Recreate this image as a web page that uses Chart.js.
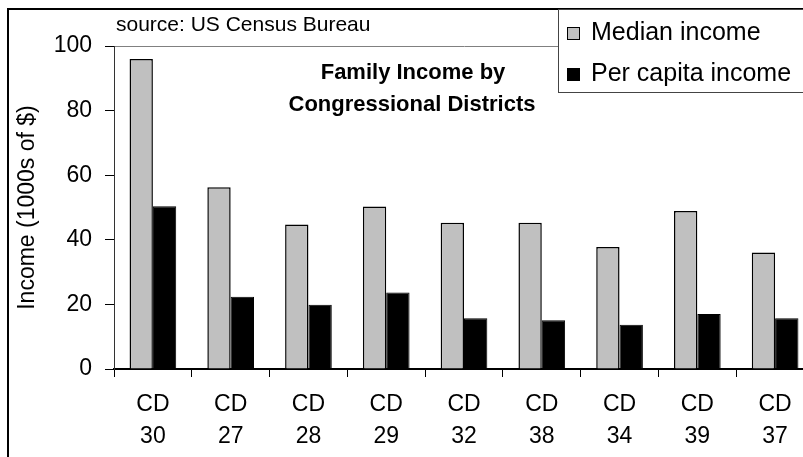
<!DOCTYPE html>
<html>
<head>
<meta charset="utf-8">
<script src="https://cdn.jsdelivr.net/npm/chart.js@4"></script>
<style>
  html, body { margin: 0; padding: 0; background: #fff; overflow: hidden; }
  #wrap { position: absolute; left: 0; top: 0; width: 830px; height: 480px; }
</style>
</head>
<body>
<div id="wrap"><canvas id="chart1"></canvas></div>
<script>
// data
var districts = [['CD', '30'], ['CD', '27'], ['CD', '28'], ['CD', '29'], ['CD', '32'],
                 ['CD', '38'], ['CD', '34'], ['CD', '39'], ['CD', '37']];
var medianIncome = [96.0, 56.3, 44.7, 50.3, 45.3, 45.3, 37.8, 48.9, 36.1];
var perCapitaIncome = [50.4, 22.4, 19.9, 23.7, 15.7, 15.1, 13.7, 17.0, 15.7];
var seriesNames = ['Median income', 'Per capita income'];
var titleLines = ['Family Income by', 'Congressional Districts'];
var sourceText = 'source: US Census Bureau';

var FONT = '"Liberation Sans", Arial, sans-serif';

// frame, source note, title and legend box
var extras = {
    id: 'extras',
    afterDraw: function (chart) {
        var ctx = chart.ctx;
        ctx.save();

        // outer frame (runs off the right and bottom edges)
        ctx.strokeStyle = '#000';
        ctx.lineWidth = 2;
        ctx.strokeRect(8, 9, 900, 900);

        ctx.fillStyle = '#000';
        ctx.textAlign = 'left';
        ctx.textBaseline = 'alphabetic';
        ctx.font = '21px ' + FONT;
        ctx.fillText(sourceText, 116, 31);

        // title
        ctx.textAlign = 'center';
        ctx.font = 'bold 22px ' + FONT;
        ctx.fillText(titleLines[0], 413, 79);
        ctx.fillText(titleLines[1], 412, 111);

        // legend
        ctx.fillStyle = '#fff';
        ctx.fillRect(558, 9, 300, 83);
        ctx.strokeStyle = '#444';
        ctx.lineWidth = 1;
        ctx.strokeRect(558.5, 9.5, 300, 83);
        ctx.textAlign = 'left';
        ctx.font = '25px ' + FONT;
        chart.data.datasets.forEach(function (ds, i) {
            var y = 27 + i * 41;
            ctx.fillStyle = ds.backgroundColor;
            ctx.fillRect(567, y, 13, 13);
            ctx.strokeStyle = '#000';
            ctx.lineWidth = 1;
            ctx.strokeRect(567.5, y + 0.5, 12, 12);
            ctx.fillStyle = '#000';
            ctx.fillText(ds.label, 591, y + 13);
        });

        ctx.restore();
    }
};

var ctx = document.getElementById('chart1').getContext('2d');
var myChart = new Chart(ctx, {
    type: 'bar',
    data: {
        labels: districts,
        datasets: [{
            label: seriesNames[0],
            data: medianIncome,
            backgroundColor: '#c0c0c0',
            borderColor: '#000',
            borderWidth: 1.5
        }, {
            label: seriesNames[1],
            data: perCapitaIncome,
            backgroundColor: '#000',
            borderColor: '#000',
            borderWidth: 1
        }]
    },
    plugins: [extras],
    options: {
        responsive: true,
        maintainAspectRatio: false,
        animation: false,
        datasets: {
            bar: { categoryPercentage: 0.6, barPercentage: 1 }
        },
        layout: {
            padding: { left: 8, top: 46, right: 16, bottom: 0 }
        },
        plugins: {
            legend: { display: false },
            title: { display: false },
            tooltip: { enabled: false }
        },
        scales: {
            x: {
                afterFit: function (scale) { scale.height = 111; },
                grid: {
                    offset: true,
                    drawOnChartArea: false,
                    tickLength: 8,
                    tickColor: '#000'
                },
                border: { color: '#000', width: 2 },
                ticks: {
                    color: '#000',
                    padding: 12,
                    maxRotation: 0,
                    font: { family: FONT, size: 23, lineHeight: 1.39 }
                }
            },
            y: {
                min: 0,
                max: 100,
                afterFit: function (scale) { scale.width = 106; },
                grid: {
                    color: function (c) { return c.tick && c.tick.value === 100 ? '#808080' : 'rgba(0,0,0,0)'; },
                    tickLength: 9,
                    tickColor: '#000'
                },
                border: { color: '#333', width: 1 },
                ticks: {
                    stepSize: 20,
                    color: '#000',
                    padding: 13,
                    font: { family: FONT, size: 23 }
                },
                title: {
                    display: true,
                    text: 'Income (1000s of $)',
                    color: '#000',
                    padding: { top: 6, bottom: 0 },
                    font: { family: FONT, size: 23 }
                }
            }
        }
    }
});
</script>
</body>
</html>
